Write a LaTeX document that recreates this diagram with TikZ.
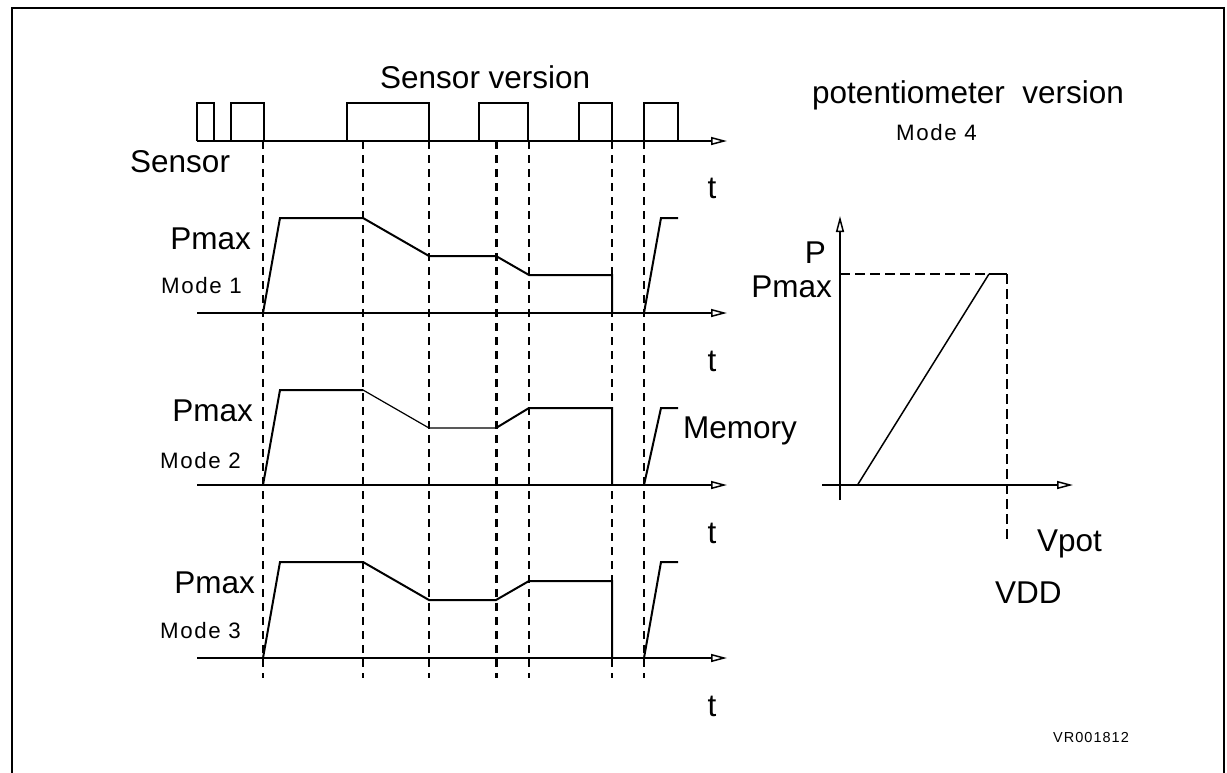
\documentclass[tikz,border=0pt]{standalone}
\usepackage{fontspec}
\setmainfont{Liberation Sans}
\newfontfamily\spacedfont[LetterSpace=7]{Liberation Sans}
\usetikzlibrary{arrows.meta}
\begin{document}
\begin{tikzpicture}[x=1pt,y=-1pt,
  axisline/.style={line width=2pt,-{Triangle[open,length=16pt,width=8pt,line width=1.5pt]}},
  wave/.style={line width=2pt,line join=miter},
  thinwave/.style={line width=1.2pt},
  guide/.style={line width=1.5pt,dash pattern=on 8pt off 6pt},
  guidethick/.style={line width=3pt,dash pattern=on 8pt off 6pt},
  big/.style={font=\fontsize{31.5}{36}\selectfont,inner sep=0pt},
  small/.style={font=\spacedfont\fontsize{22.3}{26}\selectfont,inner sep=0pt},
  tiny/.style={font=\spacedfont\fontsize{14.5}{17}\selectfont,inner sep=0pt}]
\useasboundingbox (0,0) rectangle (1227,772);
% frame
\draw[line width=2.5pt] (12,800) -- (12,8) -- (1224,8) -- (1224,800);
% titles
\node[big,anchor=base west] (tsv) at (380,88) {Sensor version};
\node[big,anchor=base west] (tpv) at (812,103) {potentiometer\ \ version};
\node[small,anchor=base west] (tm4) at (896,140) {Mode 4};
% sensor waveform
\draw[axisline] (197,141) -- (727,141);
\draw[wave] (197,141) -- (197,103) -- (214,103) -- (214,141);
\draw[wave] (231,141) -- (231,103) -- (264,103) -- (264,141);
\draw[wave] (347,141) -- (347,103) -- (429,103) -- (429,141);
\draw[wave] (479,141) -- (479,103) -- (528,103) -- (528,141);
\draw[wave] (579,141) -- (579,103) -- (612,103) -- (612,141);
\draw[wave] (644,141) -- (644,103) -- (678,103) -- (678,141);
\node[big,anchor=base west] (lsensor) at (130,172.7) {Sensor};
% guides
\foreach \gx in {263,363,429,529,612,644}{\draw[guide] (\gx,141) -- (\gx,678);}
\draw[guidethick] (496,141) -- (496,678);
% t labels
\node[big,anchor=base] (t0) at (712,198) {t};
\node[big,anchor=base] (t1) at (712,371) {t};
\node[big,anchor=base] (t2) at (712,543) {t};
\node[big,anchor=base] (t3) at (712,716) {t};
% Mode 1
\draw[axisline] (197,313) -- (727,313);
\draw[wave] (263,313) -- (280,218) -- (363,218) -- (429,256) -- (496,256) -- (529,275) -- (612,275) -- (612,313);
\draw[wave] (644,313) -- (661,218) -- (678,218);
\node[big,anchor=base east] (p1) at (251,249) {Pmax};
\node[small,anchor=base west] (m1) at (161,293) {Mode 1};
% Mode 2
\draw[axisline] (197,485) -- (727,485);
\draw[wave] (263,485) -- (280,390) -- (363,390);
\draw[thinwave] (363,390) -- (429,428) -- (496,428);
\draw[wave] (496,428) -- (529,408) -- (612,408) -- (612,485);
\draw[wave] (644,485) -- (661,408) -- (678,408);
\node[big,anchor=base east] (p2) at (253,421) {Pmax};
\node[small,anchor=base west] (m2) at (160,468) {Mode 2};
\node[big,anchor=base west] (mem) at (683,438) {Memory};
% Mode 3
\draw[axisline] (197,658) -- (727,658);
\draw[wave] (263,658) -- (280,562) -- (363,562) -- (429,600) -- (496,600) -- (529,581) -- (612,581) -- (612,658);
\draw[wave] (644,658) -- (661,562) -- (678,562);
\node[big,anchor=base east] (p3) at (255,593) {Pmax};
\node[small,anchor=base west] (m3) at (160,638) {Mode 3};
% potentiometer graph
\draw[axisline] (840,500) -- (840,216);
\draw[axisline] (822,485) -- (1073,485);
\draw[guide,dash pattern=on 10pt off 5pt] (840,274) -- (989,274);
\draw[wave] (989,274) -- (1007,274);
\draw[guide,dash pattern=on 10pt off 5pt] (1007,274) -- (1007,542);
\draw[line width=1.5pt] (857.5,485) -- (989,274);
\node[big,anchor=base east] (pp) at (826,263) {P};
\node[big,anchor=base east] (ppmax) at (832,297) {Pmax};
\node[big,anchor=base west] (vpot) at (1037,551) {Vpot};
\node[big,anchor=base west] (vdd) at (995,603) {VDD};
\node[tiny,anchor=base west] (vr) at (1053,742) {VR001812};
\end{tikzpicture}
\end{document}
